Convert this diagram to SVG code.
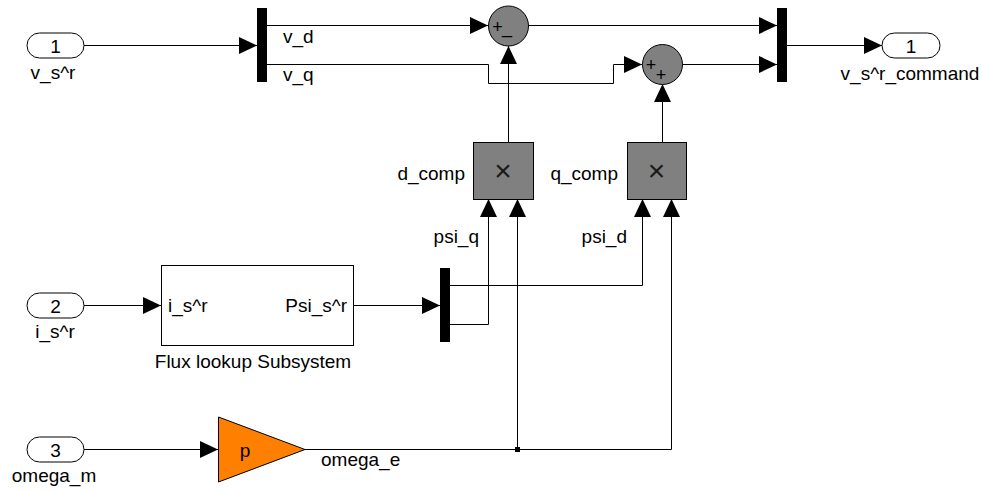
<svg xmlns="http://www.w3.org/2000/svg" width="982" height="492" viewBox="0 0 982 492">
<style>
text{font-family:"Liberation Sans",Arial,Helvetica,sans-serif;font-size:19px;fill:#000}
.port{fill:#fff;stroke:#000;stroke-width:1}
.mux{fill:#000}
.gray{fill:#808080;stroke:#000;stroke-width:1}
.sign{font-size:18px}
.times{font-size:30px;fill:#1a1a1a}
.wire{fill:none;stroke:#000;stroke-width:1}
.mid{text-anchor:middle}
.end{text-anchor:end}
</style>
<defs>
<marker id="arr" viewBox="0 0 18 17" refX="18" refY="8.5" markerWidth="18" markerHeight="17" markerUnits="userSpaceOnUse" orient="auto">
<path d="M0,0 L18,8.5 L0,17 z" fill="#000"/>
</marker>
</defs>
<g id="connectors">
<path class="wire" d="M84,45.5 H257" marker-end="url(#arr)"/>
<path class="wire" d="M267,25.5 H488" marker-end="url(#arr)"/>
<path class="wire" d="M267,64.5 H488.5 V83.5 H613.5 V64.5 H642" marker-end="url(#arr)"/>
<path class="wire" d="M528,25.5 H777" marker-end="url(#arr)"/>
<path class="wire" d="M682,64.5 H777" marker-end="url(#arr)"/>
<path class="wire" d="M787,45.5 H882" marker-end="url(#arr)"/>
<path class="wire" d="M508.5,142 V46" marker-end="url(#arr)"/>
<path class="wire" d="M662.5,142 V84" marker-end="url(#arr)"/>
<path class="wire" d="M84,305.5 H161" marker-end="url(#arr)"/>
<path class="wire" d="M353,305.5 H440" marker-end="url(#arr)"/>
<path class="wire" d="M450,285.5 H642.5 V199" marker-end="url(#arr)"/>
<path class="wire" d="M450,324.5 H488.5 V199" marker-end="url(#arr)"/>
<path class="wire" d="M84,449.5 H218" marker-end="url(#arr)"/>
<path class="wire" d="M305,449.5 H517.5 V199" marker-end="url(#arr)"/>
<path class="wire" d="M517.5,449.5 H671.5 V199" marker-end="url(#arr)"/>
<rect x="515" y="447" width="5" height="5" fill="#000"/>
</g>
<g id="in1">
<rect class="port" x="27" y="33" width="57" height="25" rx="12.5"/>
<text class="mid" x="55.5" y="52.5">1</text>
<text class="mid" x="53" y="79">v_s^r</text>
</g>
<g id="in2">
<rect class="port" x="27" y="293" width="57" height="25" rx="12.5"/>
<text class="mid" x="55.5" y="312.5">2</text>
<text class="mid" x="55" y="338">i_s^r</text>
</g>
<g id="in3">
<rect class="port" x="27" y="437" width="57" height="25" rx="12.5"/>
<text class="mid" x="55.5" y="456.5">3</text>
<text class="mid" x="54" y="482">omega_m</text>
</g>
<g id="mux_v">
<rect class="mux" x="257" y="8" width="10" height="74"/>
<text x="283" y="43">v_d</text>
<text x="283" y="81">v_q</text>
</g>
<g id="sum_d">
<circle class="gray" cx="508.5" cy="26" r="20"/>
<text class="sign mid" x="497.5" y="33">+</text>
<text class="sign mid" x="507" y="33">_</text>
</g>
<g id="sum_q">
<circle class="gray" cx="662.5" cy="64.5" r="20"/>
<text class="sign mid" x="651" y="71">+</text>
<text class="sign mid" x="661" y="80.5">+</text>
</g>
<g id="mux_out">
<rect class="mux" x="777" y="8" width="10" height="74"/>
</g>
<g id="out1">
<rect class="port" x="882" y="33" width="58" height="25" rx="12.5"/>
<text class="mid" x="911" y="52.5">1</text>
<text class="mid" x="910" y="80">v_s^r_command</text>
</g>
<g id="d_comp">
<rect class="gray" x="473.5" y="142.5" width="60" height="57"/>
<text class="times mid" x="503" y="181">×</text>
<text class="end" x="465" y="180">d_comp</text>
<text class="end" x="479" y="243">psi_q</text>
</g>
<g id="q_comp">
<rect class="gray" x="627.5" y="142.5" width="59" height="57"/>
<text class="times mid" x="656.5" y="181">×</text>
<text class="end" x="618" y="180">q_comp</text>
<text class="end" x="627" y="243">psi_d</text>
</g>
<g id="flux">
<rect x="161.5" y="265.5" width="192" height="80" fill="#fff" stroke="#000"/>
<text x="168" y="312">i_s^r</text>
<text class="end" x="347" y="312">Psi_s^r</text>
<text class="mid" x="253" y="368">Flux lookup Subsystem</text>
</g>
<g id="mux_psi">
<rect class="mux" x="440" y="268" width="10" height="74"/>
</g>
<g id="gain">
<path d="M218.5,417 L305,449.5 L218.5,482 Z" fill="#FF8000" stroke="#000"/>
<text class="mid" x="245" y="457">p</text>
<text x="321" y="466">omega_e</text>
</g>
</svg>
